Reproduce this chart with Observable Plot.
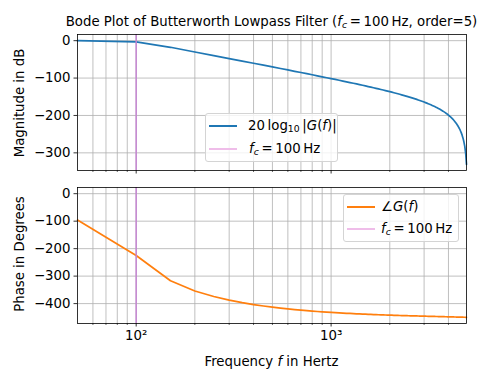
<!DOCTYPE html>
<html>
<head>
<meta charset="utf-8">
<script src="https://cdn.jsdelivr.net/npm/d3@7"></script>
<script src="https://cdn.jsdelivr.net/npm/@observablehq/plot@0.6"></script>
<style>
  body { margin: 0; background: white; }
  #chart { position: relative; width: 480px; height: 384px; font-family: "DejaVu Sans", sans-serif; font-size: 13.3px; color: black; background: white; overflow: hidden; }
  .abs { position: absolute; white-space: nowrap; }
  .legend { position: absolute; border: 1px solid #d4d4d4; border-radius: 3px; background: rgba(255,255,255,0.8); box-sizing: border-box; }
  .swatch { position: absolute; height: 2px; }
  .ltext { position: absolute; white-space: nowrap; line-height: 16px; transform: translateY(-50%); }
  sub { font-size: 70%; vertical-align: -0.25em; line-height: 0; }
</style>
</head>
<body>
<div id="chart"></div>
<script>
// Frequencies in Hz
const freq = [50,100,150,200,250,300,350,400,450,500,550,600,650,700,750,800,850,900,950,1000,
  1050,1100,1150,1200,1250,1300,1350,1400,1450,1500,1550,1600,1650,1700,1750,1800,1850,1900,1950,2000,
  2050,2100,2150,2200,2250,2300,2350,2400,2450,2500,2550,2600,2650,2700,2750,2800,2850,2900,2950,3000,
  3050,3100,3150,3200,3250,3300,3350,3400,3450,3500,3550,3600,3650,3700,3750,3800,3850,3900,3950,4000,
  4050,4100,4150,4200,4250,4300,4350,4400,4450,4500,4550,4600,4650,4700,4750,4800,4850,4900,4950];
// Magnitude in dB
const magnitudeDb = [-0.0,-3.0,-17.7,-30.2,-39.9,-47.8,-54.6,-60.4,-65.6,-70.2,-74.5,-78.3,-81.9,-85.2,-88.3,-91.2,-94.0,-96.6,-99.1,-101.4,
  -103.7,-105.9,-108.0,-110.0,-112.0,-113.9,-115.7,-117.5,-119.3,-121.0,-122.7,-124.3,-125.9,-127.5,-129.0,-130.5,-132.0,-133.5,-135.0,-136.4,
  -137.8,-139.2,-140.6,-142.0,-143.4,-144.8,-146.2,-147.5,-148.9,-150.3,-151.6,-153.0,-154.4,-155.7,-157.1,-158.5,-159.9,-161.3,-162.7,-164.1,
  -165.6,-167.0,-168.5,-170.0,-171.5,-173.1,-174.7,-176.3,-177.9,-179.6,-181.3,-183.0,-184.8,-186.6,-188.5,-190.5,-192.5,-194.6,-196.8,-199.1,
  -201.5,-204.0,-206.6,-209.3,-212.2,-215.3,-218.7,-222.2,-226.1,-230.3,-234.9,-240.1,-246.0,-252.7,-260.7,-270.4,-282.9,-300.5,-330.7];
// Phase in degrees
const phaseDeg = [-96.1,-225.0,-317.0,-354.0,-374.3,-387.4,-396.7,-403.5,-408.8,-413.0,-416.5,-419.4,-421.8,-423.9,-425.7,-427.3,-428.7,-429.9,-431.0,-432.1,
  -433.0,-433.8,-434.6,-435.3,-435.9,-436.5,-437.1,-437.6,-438.1,-438.6,-439.0,-439.4,-439.8,-440.2,-440.5,-440.8,-441.1,-441.4,-441.7,-442.0,
  -442.2,-442.5,-442.7,-443.0,-443.2,-443.4,-443.6,-443.8,-444.0,-444.2,-444.4,-444.5,-444.7,-444.9,-445.0,-445.2,-445.3,-445.5,-445.6,-445.8,
  -445.9,-446.0,-446.2,-446.3,-446.4,-446.6,-446.7,-446.8,-446.9,-447.0,-447.2,-447.3,-447.4,-447.5,-447.6,-447.7,-447.8,-447.9,-448.0,-448.1,
  -448.2,-448.3,-448.4,-448.5,-448.6,-448.7,-448.8,-448.9,-449.0,-449.1,-449.2,-449.3,-449.4,-449.5,-449.5,-449.6,-449.7,-449.8,-449.9];
const cutoff = [100];
const majorTicksX = [100, 1000];
const minorTicksX = [60,70,80,90,200,300,400,500,600,700,800,900,2000,3000,4000];
const magTicks = [0,-100,-200,-300];
const phaseTicks = [0,-100,-200,-300,-400];

const magData = freq.map((f, i) => ({f, v: magnitudeDb[i]}));
const phaseData = freq.map((f, i) => ({f, v: phaseDeg[i]}));

const fmtY = d => d === 0 ? "0" : "\u2212" + Math.abs(d);
const gridColor = "#b0b0b0";
const cutColor = "#c587d2";

function panel({data, color, yDomain, yTicks, height, marginTop, marginBottom, xLabels}) {
  return Plot.plot({
    width: 480, height,
    marginLeft: 77, marginRight: 14, marginTop, marginBottom,
    style: {fontFamily: "DejaVu Sans", fontSize: "13.3px", color: "black", background: "transparent", overflow: "visible"},
    x: {type: "log", domain: [50, 4950]},
    y: {domain: yDomain},
    marks: [
      Plot.gridX(majorTicksX.concat(minorTicksX), {stroke: gridColor, strokeOpacity: 1, strokeWidth: 0.8}),
      Plot.gridY(yTicks, {stroke: gridColor, strokeOpacity: 1, strokeWidth: 0.8}),
      Plot.line(data, {x: "f", y: "v", stroke: color, strokeWidth: 1.7}),
      Plot.ruleX(cutoff, {stroke: cutColor, strokeWidth: 1.5}),
      Plot.axisY(yTicks, {tickSize: 3.5, tickPadding: 3.5, tickFormat: fmtY, label: null, strokeWidth: 0.8}),
      Plot.axisX(majorTicksX, {tickSize: 3.5, tickPadding: 3.5, label: null, strokeWidth: 0.8,
        tickFormat: xLabels ? (d => d === 100 ? "10\u00b2" : "10\u00b3") : (() => "")}),
      Plot.axisX(minorTicksX, {tickSize: 2, label: null, strokeWidth: 0.6, tickFormat: () => ""}),
      Plot.frame({stroke: "black", strokeWidth: 0.8})
    ]
  });
}

const chart = document.getElementById("chart");
function place(el, top) {
  const w = document.createElement("div");
  w.className = "abs";
  w.style.left = "0px"; w.style.top = top + "px";
  w.appendChild(el);
  chart.appendChild(w);
}
place(panel({data: magData, color: "#1f77b4", yDomain: [-347.2, 16.5], yTicks: magTicks,
  height: 180, marginTop: 34, marginBottom: 10, xLabels: false}), 0);
place(panel({data: phaseData, color: "#ff7f0e", yDomain: [-472.4, 22.5], yTicks: phaseTicks,
  height: 204, marginTop: 7, marginBottom: 61, xLabels: true}), 180);

function html(str, style) {
  const d = document.createElement("div");
  d.className = "abs";
  Object.assign(d.style, style);
  d.innerHTML = str;
  chart.appendChild(d);
  return d;
}
// Title
html('Bode Plot of Butterworth Lowpass Filter (<i>f</i><sub><i>c</i></sub>\u2009=\u2009100\u2009Hz, order=5)',
  {left: "271.5px", top: "14px", transform: "translateX(-50%)", lineHeight: "16px"});
// X label
html('Frequency <i>f</i> in Hertz', {left: "271.5px", top: "354px", transform: "translateX(-50%)", lineHeight: "16px"});
// Y labels
html('Magnitude in dB', {left: "20px", top: "102.5px", transform: "translate(-50%,-50%) rotate(-90deg)", lineHeight: "16px"});
html('Phase in Degrees', {left: "20px", top: "254px", transform: "translate(-50%,-50%) rotate(-90deg)", lineHeight: "16px"});

function legend(box, rows) {
  const L = document.createElement("div");
  L.className = "legend";
  Object.assign(L.style, {left: box.x + "px", top: box.y + "px", width: box.w + "px", height: box.h + "px"});
  rows.forEach(r => {
    const s = document.createElement("div");
    s.className = "swatch";
    Object.assign(s.style, {left: r.sx + "px", top: (r.y - 1) + "px", width: "28px", background: r.color});
    L.appendChild(s);
    const t = document.createElement("div");
    t.className = "ltext";
    Object.assign(t.style, {left: r.tx + "px", top: r.y + "px"});
    t.innerHTML = r.label;
    L.appendChild(t);
  });
  chart.appendChild(L);
}
const fcLabel = '<i>f</i><sub><i>c</i></sub>\u2009=\u2009100\u2009Hz';
legend({x: 205, y: 113, w: 133, h: 49}, [
  {sx: 3, tx: 42, y: 11.5, color: "#1f77b4", label: '20\u2009log<sub>10</sub>\u2009|<i>G</i>(<i>f</i>)|'},
  {sx: 3, tx: 43, y: 34.5, color: "#efbde9", label: fcLabel}
]);
legend({x: 343, y: 194, w: 116, h: 48}, [
  {sx: 3, tx: 37, y: 11.5, color: "#ff7f0e", label: '\u2220<i>G</i>(<i>f</i>)'},
  {sx: 3, tx: 37, y: 33.5, color: "#efbde9", label: fcLabel}
]);
</script>
</body>
</html>
